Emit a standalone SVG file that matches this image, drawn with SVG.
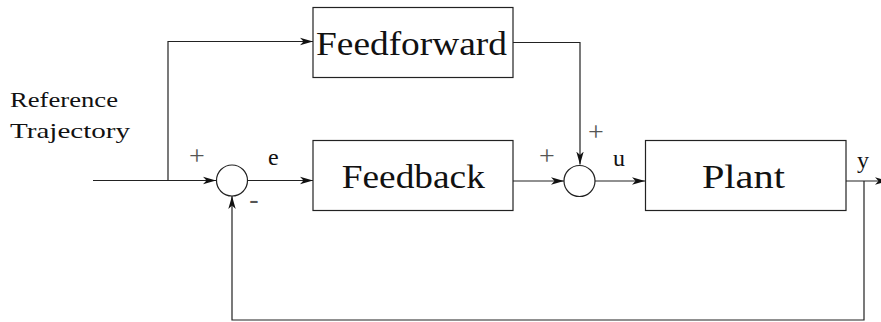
<svg xmlns="http://www.w3.org/2000/svg" width="881" height="322" viewBox="0 0 881 322" font-family="'Liberation Serif', 'DejaVu Serif', serif">
<defs>
<style>
.box{fill:#fff;stroke:#222;stroke-width:1.2}
.sum{fill:#fff;stroke:#222;stroke-width:1.2}
.wire{fill:none;stroke:#222;stroke-width:1.2}
text{font-family:'Liberation Serif','DejaVu Serif',serif}
.big{font-size:34px;fill:#111;text-anchor:middle}
.lbl{font-size:22px;fill:#111}
.sig{font-size:24px;fill:#111}
.sgn{font-size:28px;fill:#555;text-anchor:middle}
</style>
<marker id="arr" markerUnits="userSpaceOnUse" markerWidth="13" markerHeight="9" refX="13" refY="4.5" orient="auto">
<path d="M0,0.8 L13,4.5 L0,8.2 L3.5,4.5 z" fill="#111"/>
</marker>
</defs>
<g id="connectors">
<path class="wire" d="M93,180.5 H216" marker-end="url(#arr)"/>
<path class="wire" d="M168,180.5 V41.5 H313" marker-end="url(#arr)"/>
<path class="wire" d="M513,42.5 H580 V164.5" marker-end="url(#arr)"/>
<path class="wire" d="M247.5,180.5 H313" marker-end="url(#arr)"/>
<path class="wire" d="M513,181 H564" marker-end="url(#arr)"/>
<path class="wire" d="M595,181 H645" marker-end="url(#arr)"/>
<path class="wire" d="M846,181 H888" marker-end="url(#arr)"/>
<path class="wire" d="M864,181 V320 H232 V196" marker-end="url(#arr)"/>
</g>
<g id="reference">
<text class="lbl" x="10" y="107" textLength="108" lengthAdjust="spacingAndGlyphs">Reference</text>
<text class="lbl" x="10" y="138" textLength="120" lengthAdjust="spacingAndGlyphs">Trajectory</text>
</g>
<g id="feedforward">
<rect class="box" x="313" y="7.5" width="200" height="70"/>
<text class="big" x="411.5" y="55" textLength="191" lengthAdjust="spacingAndGlyphs">Feedforward</text>
</g>
<g id="feedback">
<rect class="box" x="313" y="140.5" width="200" height="70"/>
<text class="big" x="413.3" y="188" textLength="143" lengthAdjust="spacingAndGlyphs">Feedback</text>
</g>
<g id="plant">
<rect class="box" x="645.5" y="140.5" width="200.5" height="70"/>
<text class="big" x="743.4" y="188" textLength="83" lengthAdjust="spacingAndGlyphs">Plant</text>
</g>
<g id="sum1">
<circle class="sum" cx="232" cy="180.5" r="15.5"/>
<text class="sgn" x="197" y="165">+</text>
<text class="sgn" x="254" y="208">-</text>
</g>
<g id="sum2">
<circle class="sum" cx="579.5" cy="181" r="15.5"/>
<text class="sgn" x="547" y="165">+</text>
<text class="sgn" x="596" y="141">+</text>
</g>
<g id="signals">
<text class="sig" x="268" y="165">e</text>
<text class="sig" x="613" y="166">u</text>
<text class="sig" x="857" y="168">y</text>
</g>
</svg>
